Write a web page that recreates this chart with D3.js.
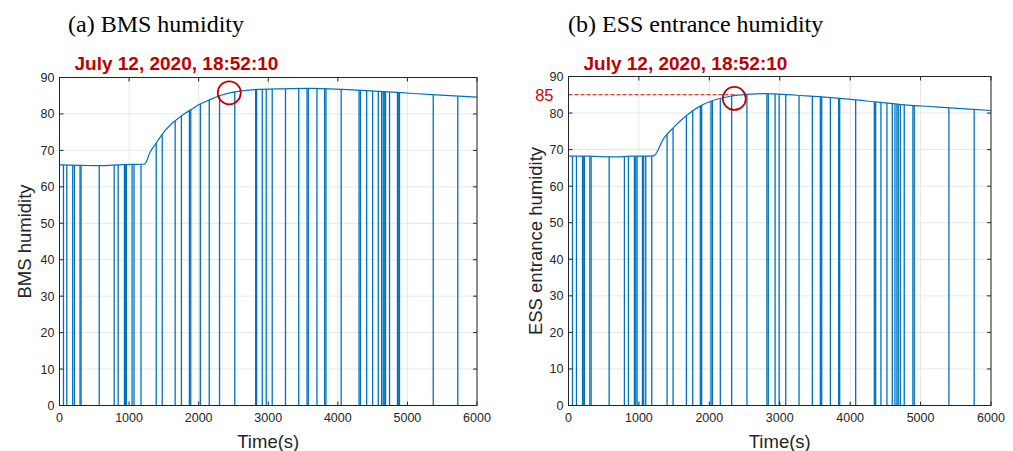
<!DOCTYPE html>
<html>
<head>
<meta charset="utf-8">
<script src="https://cdn.jsdelivr.net/npm/d3@7"></script>
<style>
  body { margin: 0; background: #fff; }
  text { font-family: "Liberation Sans", Arial, sans-serif; }
</style>
</head>
<body>
<svg width="1013" height="451"></svg>
<script>
// --- Data ---
const timeTicks = [0, 1000, 2000, 3000, 4000, 5000, 6000];
const humTicks = [0, 10, 20, 30, 40, 50, 60, 70, 80, 90];

// (a) BMS humidity, smooth trend
const bmsTime = [0, 300, 600, 900, 1220, 1300, 1400, 1500, 1600, 1700, 1800, 1900, 2000, 2150, 2300, 2500, 2800, 3200, 3600, 3900, 4400, 4850, 5350, 6000];
const bmsHum  = [66.0, 65.9, 65.8, 66.1, 66.2, 69.4, 72.3, 75.0, 77.1, 78.7, 80.1, 81.3, 82.5, 83.8, 85.0, 86.0, 86.7, 86.9, 87.0, 86.9, 86.4, 85.9, 85.3, 84.6];
// samples where the sensor dropped to 0
const bmsDrops = [57, 105, 190, 214, 295, 310, 571, 786, 843, 933, 950, 962, 1043, 1071, 1171, 1390, 1476, 1662, 1752, 1867, 1886, 2024, 2152, 2300, 2519, 2819, 2833, 2914, 2971, 3057, 3248, 3438, 3557, 3576, 3700, 3810, 3829, 4048, 4305, 4324, 4414, 4500, 4581, 4629, 4652, 4667, 4686, 4743, 4857, 4876, 4886, 5371, 5724];
const bmsMark = [2440, 85.8];

// (b) ESS entrance humidity
const essTime = [0, 300, 600, 900, 1210, 1350, 1500, 1680, 1870, 2060, 2300, 2530, 2800, 3050, 3300, 3750, 4230, 4700, 5200, 5750, 6000];
const essHum  = [68.2, 68.2, 68.0, 68.2, 68.3, 73.0, 76.2, 79.4, 81.9, 83.5, 84.6, 85.1, 85.3, 85.1, 84.8, 84.2, 83.3, 82.4, 81.7, 81.0, 80.7];
const essDrops = [57, 113, 199, 217, 227, 303, 321, 577, 794, 851, 936, 955, 974, 1050, 1068, 1097, 1182, 1400, 1485, 1674, 1764, 1872, 1891, 2024, 2043, 2156, 2317, 2534, 2818, 2837, 2934, 2991, 3085, 3274, 3463, 3577, 3596, 3719, 3837, 3851, 4078, 4343, 4362, 4437, 4522, 4598, 4636, 4664, 4683, 4712, 4768, 4891, 4910, 5402, 5761];
const essMark = [2355, 84.0];
const essRef = 85;
const essRefEnd = 2390;

const dateLabel = 'July 12, 2020, 18:52:10';

const svg = d3.select('svg');
const blue = '#0072BD';
const red = '#c00000';
const axisCol = '#262626';

function drawPanel(p) {
  const x = d3.scaleLinear().domain([0, 6000]).range([p.left, p.right]);
  const y = d3.scaleLinear().domain([0, 90]).range([p.bottom, p.top]);
  const g = svg.append('g');

  // --- grid ---
  g.selectAll('line.gx').data(timeTicks).join('line')
    .attr('x1', d => x(d)).attr('x2', d => x(d))
    .attr('y1', p.top).attr('y2', p.bottom)
    .attr('stroke', '#e6e6e6').attr('stroke-width', 1);
  g.selectAll('line.gy').data(humTicks).join('line')
    .attr('x1', p.left).attr('x2', p.right)
    .attr('y1', d => y(d)).attr('y2', d => y(d))
    .attr('stroke', '#e6e6e6').attr('stroke-width', 1);

  const pts = p.time.map((t, i) => [t, p.hum[i]]);

  // --- drop-outs: vertical lines clipped to the area under the curve ---
  const area = d3.area().curve(d3.curveMonotoneX)
    .x(d => x(d[0])).y0(y(0)).y1(d => y(d[1]));
  g.append('clipPath').attr('id', p.id + '-clip')
    .append('path').datum(pts).attr('d', area);
  g.append('g').attr('clip-path', `url(#${p.id}-clip)`)
    .selectAll('line').data(p.drops).join('line')
    .attr('x1', d => x(d)).attr('x2', d => x(d))
    .attr('y1', y(0)).attr('y2', y(90))
    .attr('stroke', blue).attr('stroke-width', 1.3);

  // --- trend line ---
  const line = d3.line().curve(d3.curveMonotoneX)
    .x(d => x(d[0])).y(d => y(d[1]));
  g.append('path').datum(pts).attr('d', line)
    .attr('fill', 'none').attr('stroke', blue).attr('stroke-width', 1.2);

  // --- reference line ---
  if (p.ref != null) {
    g.append('line')
      .attr('x1', x(0)).attr('x2', x(p.refEnd))
      .attr('y1', y(p.ref)).attr('y2', y(p.ref))
      .attr('stroke', red).attr('stroke-width', 1)
      .attr('stroke-dasharray', '4,2');
    g.append('text')
      .attr('x', p.left - 15).attr('y', y(p.ref)).attr('dy', '0.36em')
      .attr('text-anchor', 'end')
      .attr('font-size', 16.5).attr('fill', '#d40000')
      .text(p.ref);
  }

  // --- box + ticks ---
  g.append('rect')
    .attr('x', p.left).attr('y', p.top)
    .attr('width', p.right - p.left).attr('height', p.bottom - p.top)
    .attr('fill', 'none').attr('stroke', axisCol).attr('stroke-width', 1);
  const tl = 4;
  timeTicks.forEach(t => {
    g.append('line').attr('x1', x(t)).attr('x2', x(t))
      .attr('y1', p.bottom).attr('y2', p.bottom - tl).attr('stroke', axisCol);
    g.append('line').attr('x1', x(t)).attr('x2', x(t))
      .attr('y1', p.top).attr('y2', p.top + tl).attr('stroke', axisCol);
    g.append('text')
      .attr('x', x(t)).attr('y', p.bottom + 16)
      .attr('text-anchor', 'middle').attr('font-size', 12.5).attr('fill', axisCol)
      .text(t);
  });
  humTicks.forEach(h => {
    g.append('line').attr('x1', p.left).attr('x2', p.left + tl)
      .attr('y1', y(h)).attr('y2', y(h)).attr('stroke', axisCol);
    g.append('line').attr('x1', p.right).attr('x2', p.right - tl)
      .attr('y1', y(h)).attr('y2', y(h)).attr('stroke', axisCol);
    g.append('text')
      .attr('x', p.left - 5).attr('y', y(h)).attr('dy', '0.36em')
      .attr('text-anchor', 'end').attr('font-size', 12.5).attr('fill', axisCol)
      .text(h);
  });

  // --- axis labels ---
  g.append('text')
    .attr('x', (p.left + p.right) / 2).attr('y', 448)
    .attr('text-anchor', 'middle').attr('font-size', 18.5).attr('fill', axisCol)
    .text('Time(s)');
  g.append('text')
    .attr('transform', `translate(${p.ylabX},${(p.top + p.bottom) / 2}) rotate(-90)`)
    .attr('text-anchor', 'middle').attr('dy', '0.35em')
    .attr('font-size', 18.5).attr('fill', axisCol)
    .text(p.ylabel);

  // --- highlight ---
  g.append('circle')
    .attr('cx', x(p.mark[0])).attr('cy', y(p.mark[1])).attr('r', 11.5)
    .attr('fill', 'none').attr('stroke', red).attr('stroke-width', 1.8);
  g.append('text')
    .attr('x', p.left + 15).attr('y', 70)
    .attr('font-weight', 'bold').attr('font-size', 19).attr('fill', red)
    .text(dateLabel);

  // --- panel caption ---
  g.append('text')
    .attr('x', p.capX).attr('y', 32)
    .style('font-family', '"Liberation Serif", "Times New Roman", serif')
    .attr('font-size', 24).attr('fill', '#000')
    .text(p.caption);
}

drawPanel({
  id: 'bms', left: 59.5, right: 477, top: 77.5, bottom: 405.5,
  time: bmsTime, hum: bmsHum, drops: bmsDrops, mark: bmsMark,
  ylabel: 'BMS humidity', ylabX: 25, caption: '(a) BMS humidity', capX: 68
});
drawPanel({
  id: 'ess', left: 568.5, right: 991, top: 76.5, bottom: 405.5,
  time: essTime, hum: essHum, drops: essDrops, mark: essMark,
  ref: essRef, refEnd: essRefEnd,
  ylabel: 'ESS entrance humidity', ylabX: 536, caption: '(b) ESS entrance humidity', capX: 568
});
</script>
</body>
</html>
